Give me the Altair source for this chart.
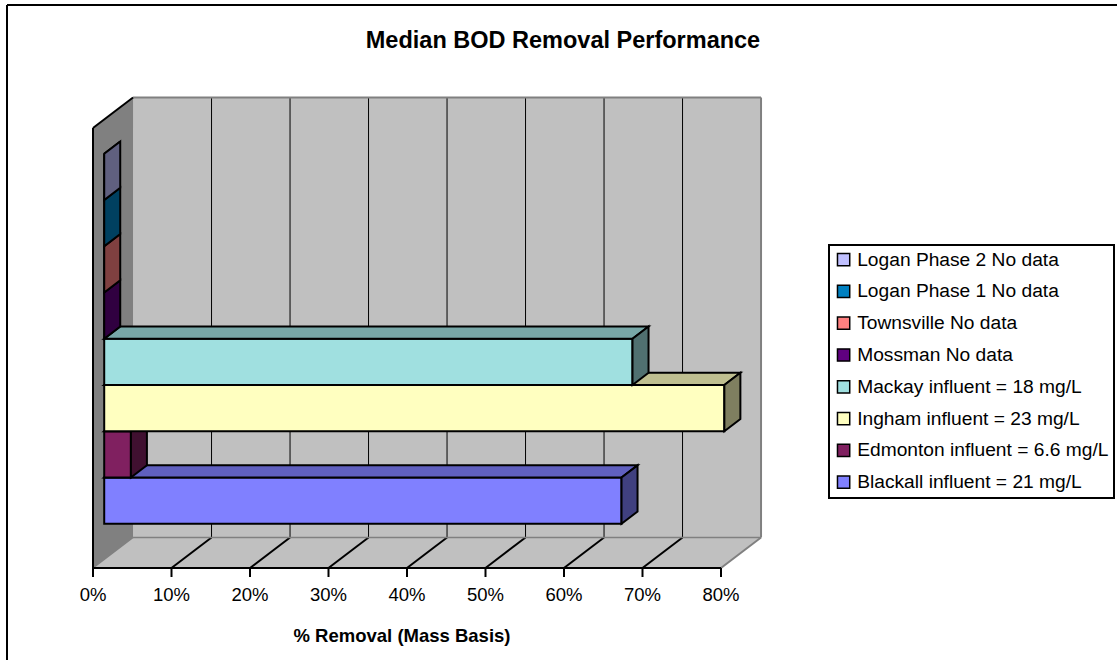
import altair as alt
import pandas as pd

# ---------------- data ----------------
series = [
    "Blackall influent = 21 mg/L",
    "Edmonton influent = 6.6 mg/L",
    "Ingham influent = 23 mg/L",
    "Mackay influent = 18 mg/L",
    "Mossman No data",
    "Townsville No data",
    "Logan Phase 1 No data",
    "Logan Phase 2 No data",
]
removal_pct = [65.9, 3.4, 79.0, 67.3, 0, 0, 0, 0]   # "No data" series drawn as zero bars
front_colors = ["#8080FF", "#802060", "#FFFFC0", "#A0E0E0",
                "#600080", "#FF8080", "#0080C0", "#C0C0FF"]
tick_values = [0, 10, 20, 30, 40, 50, 60, 70, 80]
tick_labels = ["0%", "10%", "20%", "30%", "40%", "50%", "60%", "70%", "80%"]
chart_title = "Median BOD Removal Performance"
x_title = "% Removal (Mass Basis)"

# ---------------- 3-D geometry (style constants) ----------------
X_MAX = 80
FLOOR, TOP = -0.77, 8.74        # slot units of the category axis
DX, DY = 5.1, 0.66              # depth of the box in data units
F1, F2 = 0.28, 0.68             # bar depth position (front / back)
FONT = "Liberation Sans"


def shade(hex_color, f):
    h = hex_color.lstrip("#")
    r, g, b = (int(h[i:i + 2], 16) for i in (0, 2, 4))
    return "#{:02X}{:02X}{:02X}".format(int(r * f), int(g * f), int(b * f))


xs = alt.Scale(domain=[0, X_MAX], range=[93, 721])
ys = alt.Scale(domain=[FLOOR, TOP], range=[568, 128])


def X(f, **kw):
    return alt.X(f, type="quantitative", scale=xs, axis=None, **kw)


def Y(f, **kw):
    return alt.Y(f, type="quantitative", scale=ys, axis=None, **kw)


layers = []

# outer frame (only left/top edges are inside the picture)
one = alt.Data(values=[{"a": 1}])
layers.append(alt.Chart(one).mark_rule(color="black", strokeWidth=2).encode(
    x=alt.value(7), y=alt.value(5), y2=alt.value(660)))
layers.append(alt.Chart(one).mark_rule(color="black", strokeWidth=2).encode(
    x=alt.value(7), x2=alt.value(1117), y=alt.value(5)))

# back wall
wall = pd.DataFrame([{"x": DX, "x2": X_MAX + DX, "y": FLOOR + DY, "y2": TOP + DY}])
layers.append(alt.Chart(wall).mark_rect(fill="#C0C0C0").encode(
    x=X("x"), x2="x2", y=Y("y"), y2="y2"))

# floor
floor = pd.DataFrame([{"y": FLOOR, "x": 0, "x2": X_MAX},
                      {"y": FLOOR + DY, "x": DX, "x2": X_MAX + DX}])
layers.append(alt.Chart(floor).mark_area(orient="horizontal", fill="#C0C0C0").encode(
    y=Y("y"), x=X("x", stack=None), x2="x2"))

# left side wall
side = pd.DataFrame([{"x": 0, "y": FLOOR, "y2": TOP},
                     {"x": DX, "y": FLOOR + DY, "y2": TOP + DY}])
layers.append(alt.Chart(side).mark_area(orient="vertical", fill="#808080").encode(
    x=X("x"), y=Y("y", stack=None), y2="y2"))

# wall / floor lines
lines = []
for t in tick_values[1:-1]:
    lines.append({"x": t + DX, "y": FLOOR + DY, "x2": t + DX, "y2": TOP + DY, "c": "black", "w": 1})
    lines.append({"x": t, "y": FLOOR, "x2": t + DX, "y2": FLOOR + DY, "c": "black", "w": 2})
lines += [
    {"x": DX, "y": FLOOR + DY, "x2": X_MAX + DX, "y2": FLOOR + DY, "c": "#808080", "w": 1.5},
    {"x": 0, "y": FLOOR, "x2": DX, "y2": FLOOR + DY, "c": "#808080", "w": 1.5},
    {"x": X_MAX, "y": FLOOR, "x2": X_MAX + DX, "y2": FLOOR + DY, "c": "#808080", "w": 2},
    {"x": X_MAX + DX, "y": FLOOR + DY, "x2": X_MAX + DX, "y2": TOP + DY, "c": "#808080", "w": 2},
    {"x": DX, "y": TOP + DY, "x2": X_MAX + DX, "y2": TOP + DY, "c": "#808080", "w": 2},
    {"x": 0, "y": FLOOR, "x2": 0, "y2": TOP, "c": "black", "w": 2},
    {"x": 0, "y": TOP, "x2": DX, "y2": TOP + DY, "c": "black", "w": 2},
    {"x": 0, "y": FLOOR, "x2": X_MAX, "y2": FLOOR, "c": "black", "w": 2},
]
layers.append(alt.Chart(pd.DataFrame(lines)).mark_rule().encode(
    x=X("x"), x2="x2", y=Y("y"), y2="y2",
    stroke=alt.Stroke("c:N", scale=None),
    strokeWidth=alt.StrokeWidth("w:Q", scale=None)))

# bars (bottom to top so that upper bars cover lower tops)
legend_domain = list(reversed(series))
legend_range = list(reversed(front_colors))
color_scale = alt.Scale(domain=legend_domain, range=legend_range)
legend = alt.Legend(orient="none", legendX=829, legendY=245, title=None,
                    symbolType="square", symbolSize=150, symbolStrokeColor="black",
                    symbolStrokeWidth=1.5, labelFontSize=19.2, labelFont=FONT,
                    labelColor="black", labelLimit=500, labelOffset=4, rowPadding=11.8,
                    padding=5, fillColor="white", strokeColor="black")

for i, (name, v, col) in enumerate(zip(series, removal_pct, front_colors)):
    front = pd.DataFrame([{"series": name, "x": F1 * DX, "x2": v + F1 * DX,
                           "y": i + F1 * DY, "y2": i + 1 + F1 * DY}])
    layers.append(alt.Chart(front).mark_rect(stroke="black", strokeWidth=2).encode(
        x=X("x"), x2="x2", y=Y("y"), y2="y2",
        color=alt.Color("series:N", scale=color_scale, legend=legend)))
    top = pd.DataFrame([{"y": i + 1 + F1 * DY, "x": F1 * DX, "x2": v + F1 * DX},
                        {"y": i + 1 + F2 * DY, "x": F2 * DX, "x2": v + F2 * DX}])
    layers.append(alt.Chart(top).mark_area(orient="horizontal", fill=shade(col, 0.75),
                                           stroke="black", strokeWidth=2).encode(
        y=Y("y"), x=X("x", stack=None), x2="x2"))
    sd = pd.DataFrame([{"x": v + F1 * DX, "y": i + F1 * DY, "y2": i + 1 + F1 * DY},
                       {"x": v + F2 * DX, "y": i + F2 * DY, "y2": i + 1 + F2 * DY}])
    layers.append(alt.Chart(sd).mark_area(orient="vertical", fill=shade(col, 0.5),
                                          stroke="black", strokeWidth=2).encode(
        x=X("x"), y=Y("y", stack=None), y2="y2"))

# x axis ticks and labels (front edge of the floor)
ticks = pd.DataFrame({"t": tick_values, "label": tick_labels, "floor": FLOOR})
layers.append(alt.Chart(ticks).mark_rule(color="black", strokeWidth=2).encode(
    x=X("t"), y=Y("floor"), y2=alt.value(577)))
layers.append(alt.Chart(ticks).mark_text(font=FONT, fontSize=18.5, color="black",
                                         baseline="alphabetic", align="center").encode(
    x=X("t"), y=alt.value(601), text="label:N"))

# axis title and chart title
layers.append(alt.Chart(one).mark_text(text=x_title, font=FONT, fontSize=18.5,
                                       fontWeight="bold", color="black",
                                       baseline="alphabetic", align="center").encode(
    x=alt.value(402), y=alt.value(642)))
layers.append(alt.Chart(one).mark_text(text=chart_title, font=FONT, fontSize=23.5,
                                       fontWeight="bold", color="black",
                                       baseline="alphabetic", align="center").encode(
    x=alt.value(563), y=alt.value(48)))

chart = alt.layer(*layers).properties(
    width=1117, height=660, padding=0, autosize=alt.AutoSizeParams(type="none"),
    background="white"
).configure_view(stroke=None).configure_legend(strokeWidth=2)

chart.save("out.html", embed_options={"renderer": "svg", "actions": False})
